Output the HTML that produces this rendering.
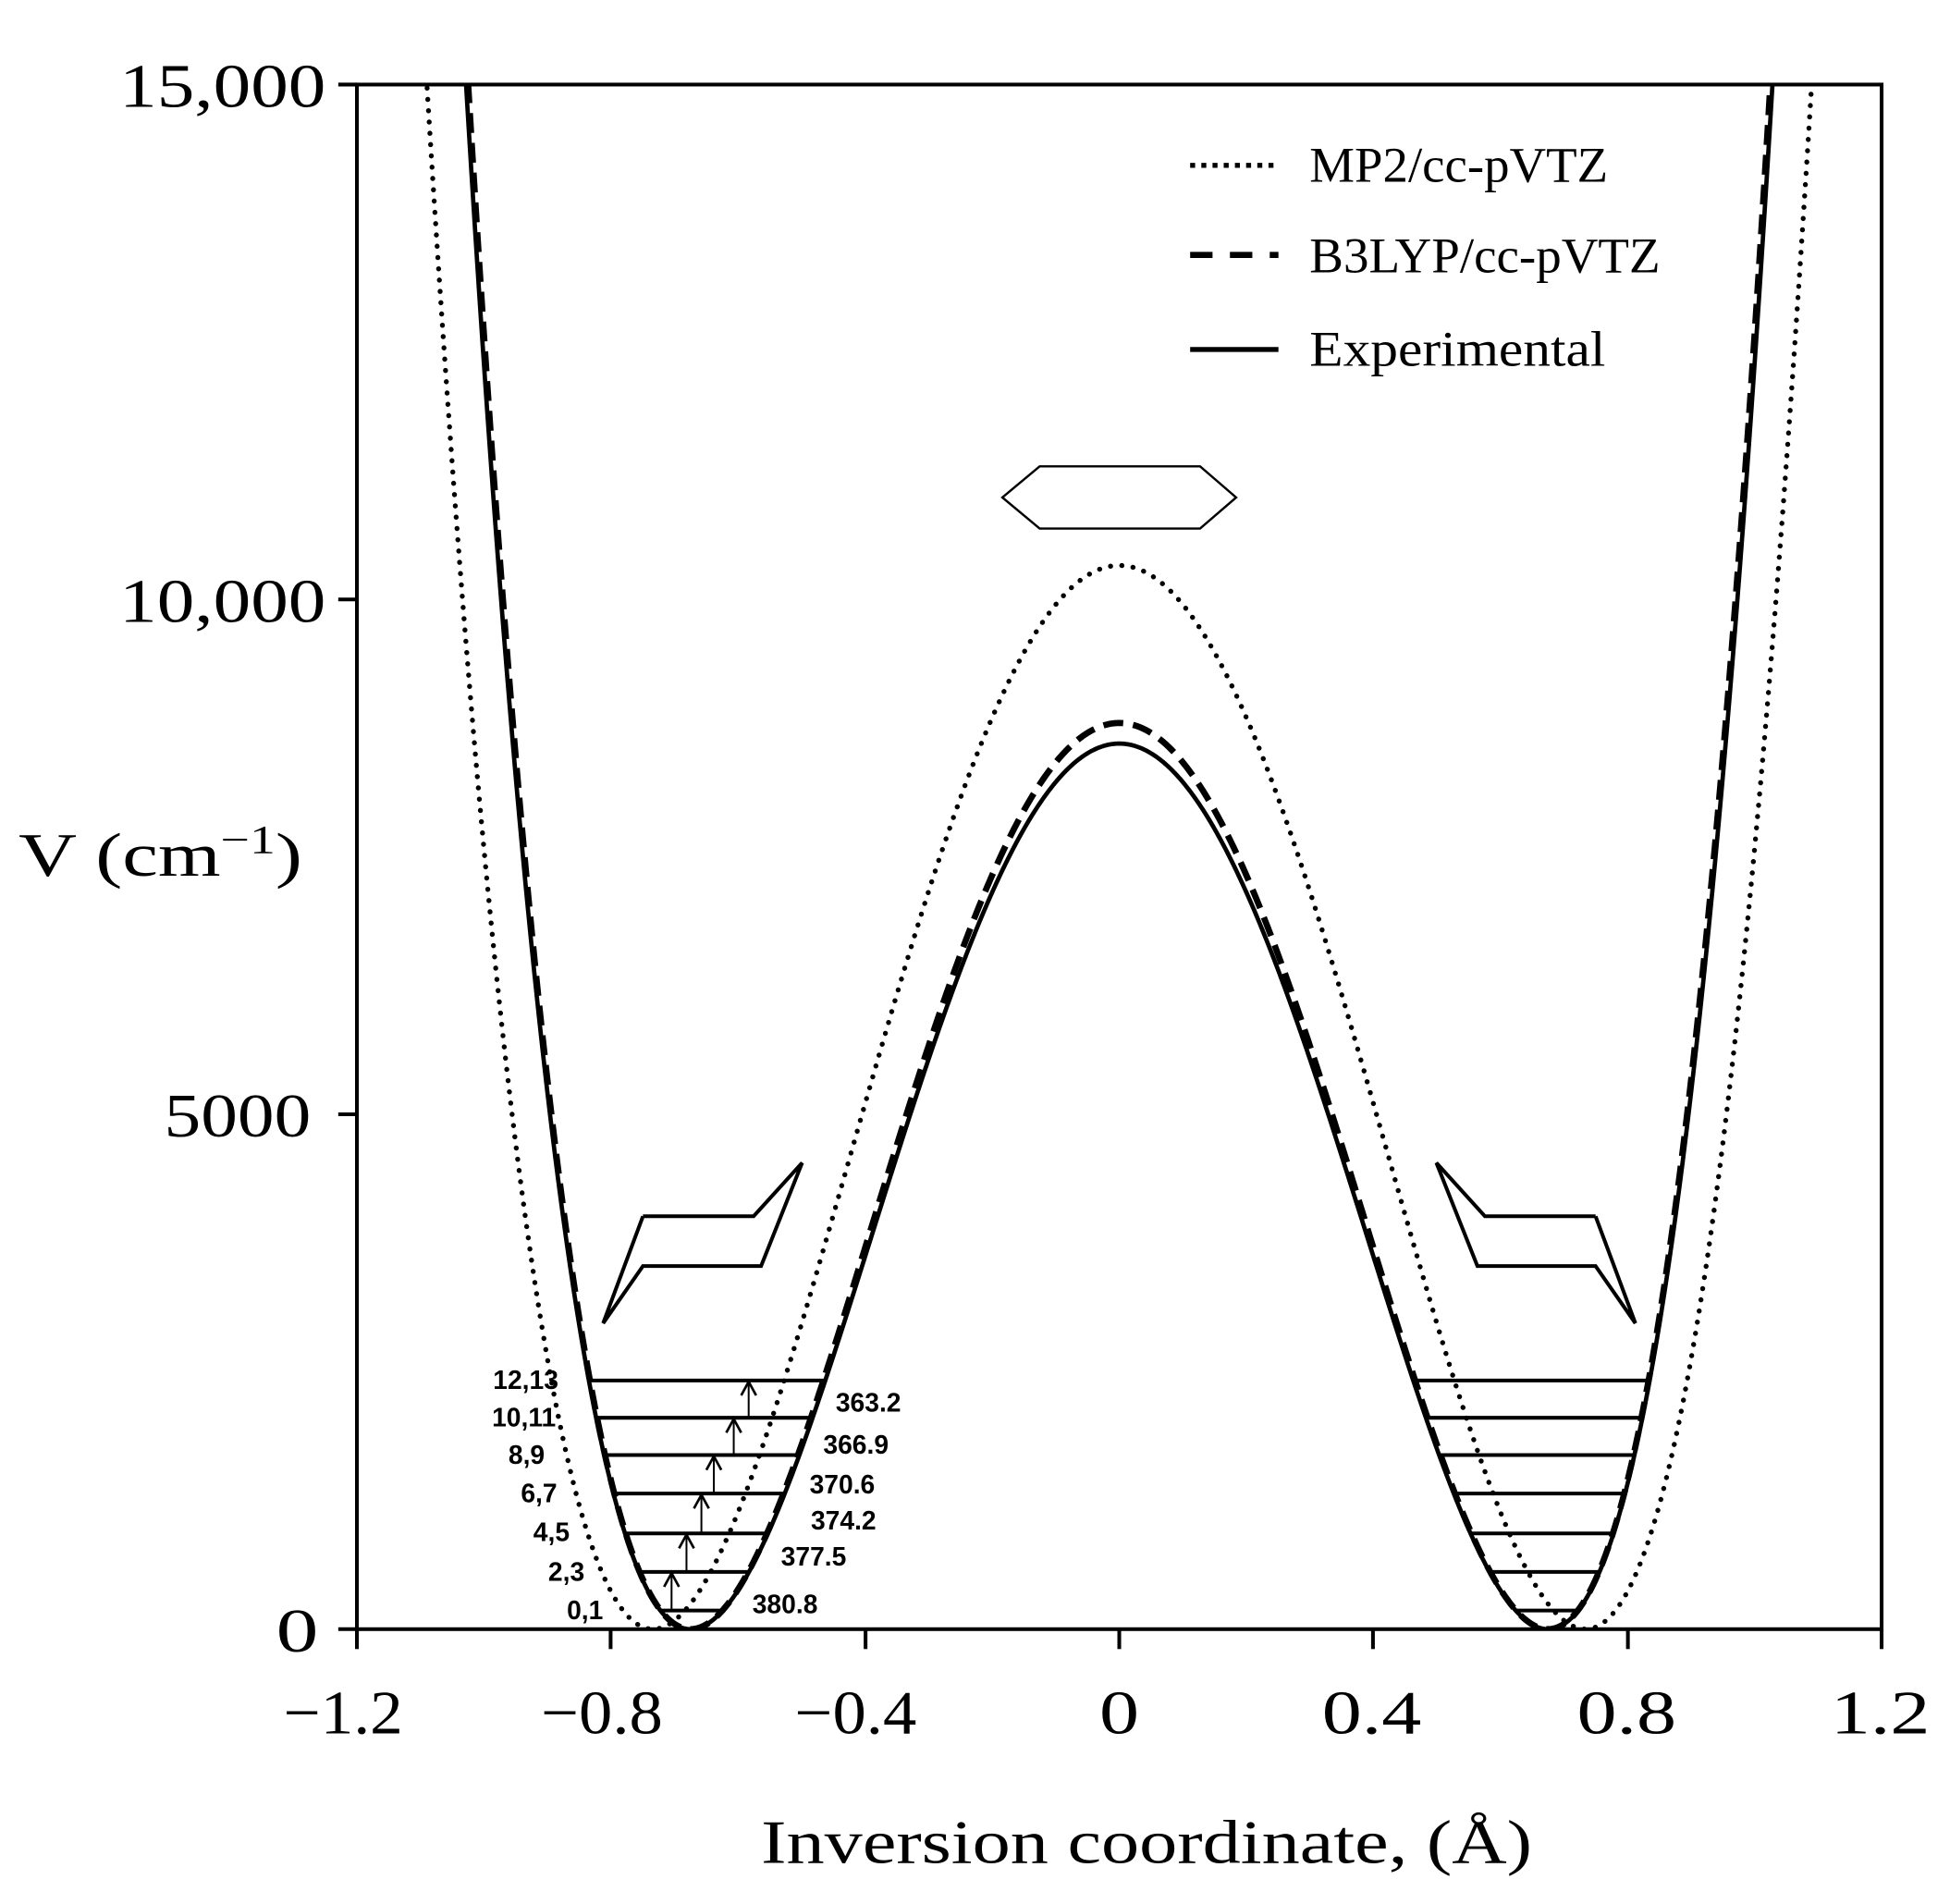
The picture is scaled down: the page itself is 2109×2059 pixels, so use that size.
<!DOCTYPE html>
<html><head><meta charset="utf-8"><style>
html,body{margin:0;padding:0;background:#fff}
svg{display:block}
</style></head><body>
<svg id="s" width="2109" height="2059" viewBox="0 0 1568 1531" xmlns="http://www.w3.org/2000/svg" preserveAspectRatio="none">
<rect width="1568" height="1531" fill="#fff"/>
<defs><clipPath id="c"><rect x="287" y="68" width="1226" height="1242"/></clipPath></defs>
<g id="curves" clip-path="url(#c)"></g>
<g id="levels"></g>
<rect x="287" y="68" width="1226" height="1242" fill="none" stroke="#000" stroke-width="3"/>
<g stroke="#000" stroke-width="3">
<line x1="272" y1="68" x2="287" y2="68"/><line x1="272" y1="482" x2="287" y2="482"/>
<line x1="272" y1="896" x2="287" y2="896"/><line x1="272" y1="1310" x2="287" y2="1310"/>
<line x1="287" y1="1310" x2="287" y2="1326"/><line x1="491" y1="1310" x2="491" y2="1326"/>
<line x1="696" y1="1310" x2="696" y2="1326"/><line x1="900" y1="1310" x2="900" y2="1326"/>
<line x1="1104" y1="1310" x2="1104" y2="1326"/><line x1="1309" y1="1310" x2="1309" y2="1326"/>
<line x1="1513" y1="1310" x2="1513" y2="1326"/>
</g>
<g style="font-family:'Liberation Serif',serif" font-size="50" fill="#000">
<text x="96" y="86" textLength="166" lengthAdjust="spacingAndGlyphs">15,000</text>
<text x="96" y="500" textLength="166" lengthAdjust="spacingAndGlyphs">10,000</text>
<text x="132" y="914" textLength="118" lengthAdjust="spacingAndGlyphs">5000</text>
<text x="222" y="1328" textLength="34" lengthAdjust="spacingAndGlyphs">0</text>
<text x="228" y="1394" textLength="96" lengthAdjust="spacingAndGlyphs">−1.2</text>
<text x="435" y="1394" textLength="98" lengthAdjust="spacingAndGlyphs">−0.8</text>
<text x="639" y="1394" textLength="98" lengthAdjust="spacingAndGlyphs">−0.4</text>
<text x="884" y="1394" textLength="32" lengthAdjust="spacingAndGlyphs">0</text>
<text x="1063" y="1394" textLength="80" lengthAdjust="spacingAndGlyphs">0.4</text>
<text x="1268" y="1394" textLength="80" lengthAdjust="spacingAndGlyphs">0.8</text>
<text x="1472" y="1394" textLength="80" lengthAdjust="spacingAndGlyphs">1.2</text>
<text x="612" y="1498" textLength="620" lengthAdjust="spacingAndGlyphs">Inversion coordinate,  (Å)</text>
<text x="15" y="704" textLength="228" lengthAdjust="spacingAndGlyphs">V (cm<tspan font-size="32" dy="-18">−1</tspan><tspan dy="18">)</tspan></text>
</g>
<g style="font-family:'Liberation Serif',serif" font-size="40" fill="#000">
<text x="1053" y="146" textLength="240" lengthAdjust="spacingAndGlyphs">MP2/cc-pVTZ</text>
<text x="1053" y="219" textLength="282" lengthAdjust="spacingAndGlyphs">B3LYP/cc-pVTZ</text>
<text x="1053" y="294" textLength="238" lengthAdjust="spacingAndGlyphs">Experimental</text>
</g>
<line x1="957" y1="133" x2="1028" y2="133" stroke="#000" stroke-width="4" stroke-dasharray="4 5"/>
<line x1="957" y1="205" x2="1028" y2="205" stroke="#000" stroke-width="5" stroke-dasharray="18 14"/>
<line x1="957" y1="281" x2="1028" y2="281" stroke="#000" stroke-width="4"/>
<g fill="none" stroke="#000" stroke-width="2">
<polygon points="806,400 836,375 965,375 994,400 965,425 836,425" stroke-width="1.8"/>
<polyline points="517,978 485,1064 517,1018 612,1018 645,935 606,978 517,978" stroke-width="3"/>
<polyline points="1283,978 1315,1064 1283,1018 1188,1018 1155,935 1194,978 1283,978" stroke-width="3"/>
</g>
<g style="font-family:'Liberation Sans','DejaVu Sans',sans-serif" font-weight="bold" font-size="21" fill="#000">
<text x="485" y="1302" text-anchor="end">0,1</text>
<text x="470" y="1271" text-anchor="end">2,3</text>
<text x="458" y="1239" text-anchor="end">4,5</text>
<text x="448" y="1208" text-anchor="end">6,7</text>
<text x="438" y="1177" text-anchor="end">8,9</text>
<text x="447" y="1147" text-anchor="end">10,11</text>
<text x="449" y="1117" text-anchor="end">12,13</text>
<text x="605" y="1297">380.8</text>
<text x="628" y="1259">377.5</text>
<text x="652" y="1230">374.2</text>
<text x="651" y="1201">370.6</text>
<text x="662" y="1169">366.9</text>
<text x="672" y="1135">363.2</text>
</g>
</svg>
<script>
(function(){
var NS="http://www.w3.org/2000/svg";
function X(x){return 900+x*510.8;}
function Y(v){return 1310-v*0.0828;}
function path(B,x0,attrs){
  var d="";
  for(var i=0;i<=1200;i++){var x=-1.2+2.4*i/1200;var t=1-(x/x0)*(x/x0);var v=B*t*t;
    d+=(i?"L":"M")+X(x).toFixed(2)+","+Y(v).toFixed(2);}
  var p=document.createElementNS(NS,"path");p.setAttribute("d",d);p.setAttribute("fill","none");
  for(var k in attrs)p.setAttribute(k,attrs[k]);
  document.getElementById("curves").appendChild(p);
}
path(10330,0.734,{stroke:"#000","stroke-width":"4","stroke-dasharray":"0.1 9","stroke-linecap":"round"});
path(8800,0.675,{stroke:"#000","stroke-width":"5","stroke-dasharray":"16 8"});
path(8600,0.675,{stroke:"#000","stroke-width":"3.5"});
var g=document.getElementById("levels");
var E=[181,556,930,1317,1691,2053,2415];
var B=8600,x0=0.675;
E.forEach(function(e,i){
  var s=Math.sqrt(e/B);var xo=x0*Math.sqrt(1+s),xi=x0*Math.sqrt(1-s);
  [-1,1].forEach(function(sg){
    var l=document.createElementNS(NS,"line");
    l.setAttribute("x1",X(sg*xo));l.setAttribute("x2",X(sg*xi));
    l.setAttribute("y1",Y(e));l.setAttribute("y2",Y(e));
    l.setAttribute("stroke","#000");l.setAttribute("stroke-width","3");g.appendChild(l);
  });
});
var ax=[540,552,564,574,590,602];
for(var i=0;i<6;i++){
  var y1=Y(E[i]),y2=Y(E[i+1]);var x=ax[i];
  var l=document.createElementNS(NS,"line");
  l.setAttribute("x1",x);l.setAttribute("x2",x);l.setAttribute("y1",y1);l.setAttribute("y2",y2+2);
  l.setAttribute("stroke","#000");l.setAttribute("stroke-width","1.5");g.appendChild(l);
  var h=document.createElementNS(NS,"polyline");
  h.setAttribute("points",(x-6)+","+(y2+12)+" "+x+","+(y2+1)+" "+(x+6)+","+(y2+12));
  h.setAttribute("fill","none");h.setAttribute("stroke","#000");h.setAttribute("stroke-width","2");g.appendChild(h);
}
})();
</script>
</body></html>
